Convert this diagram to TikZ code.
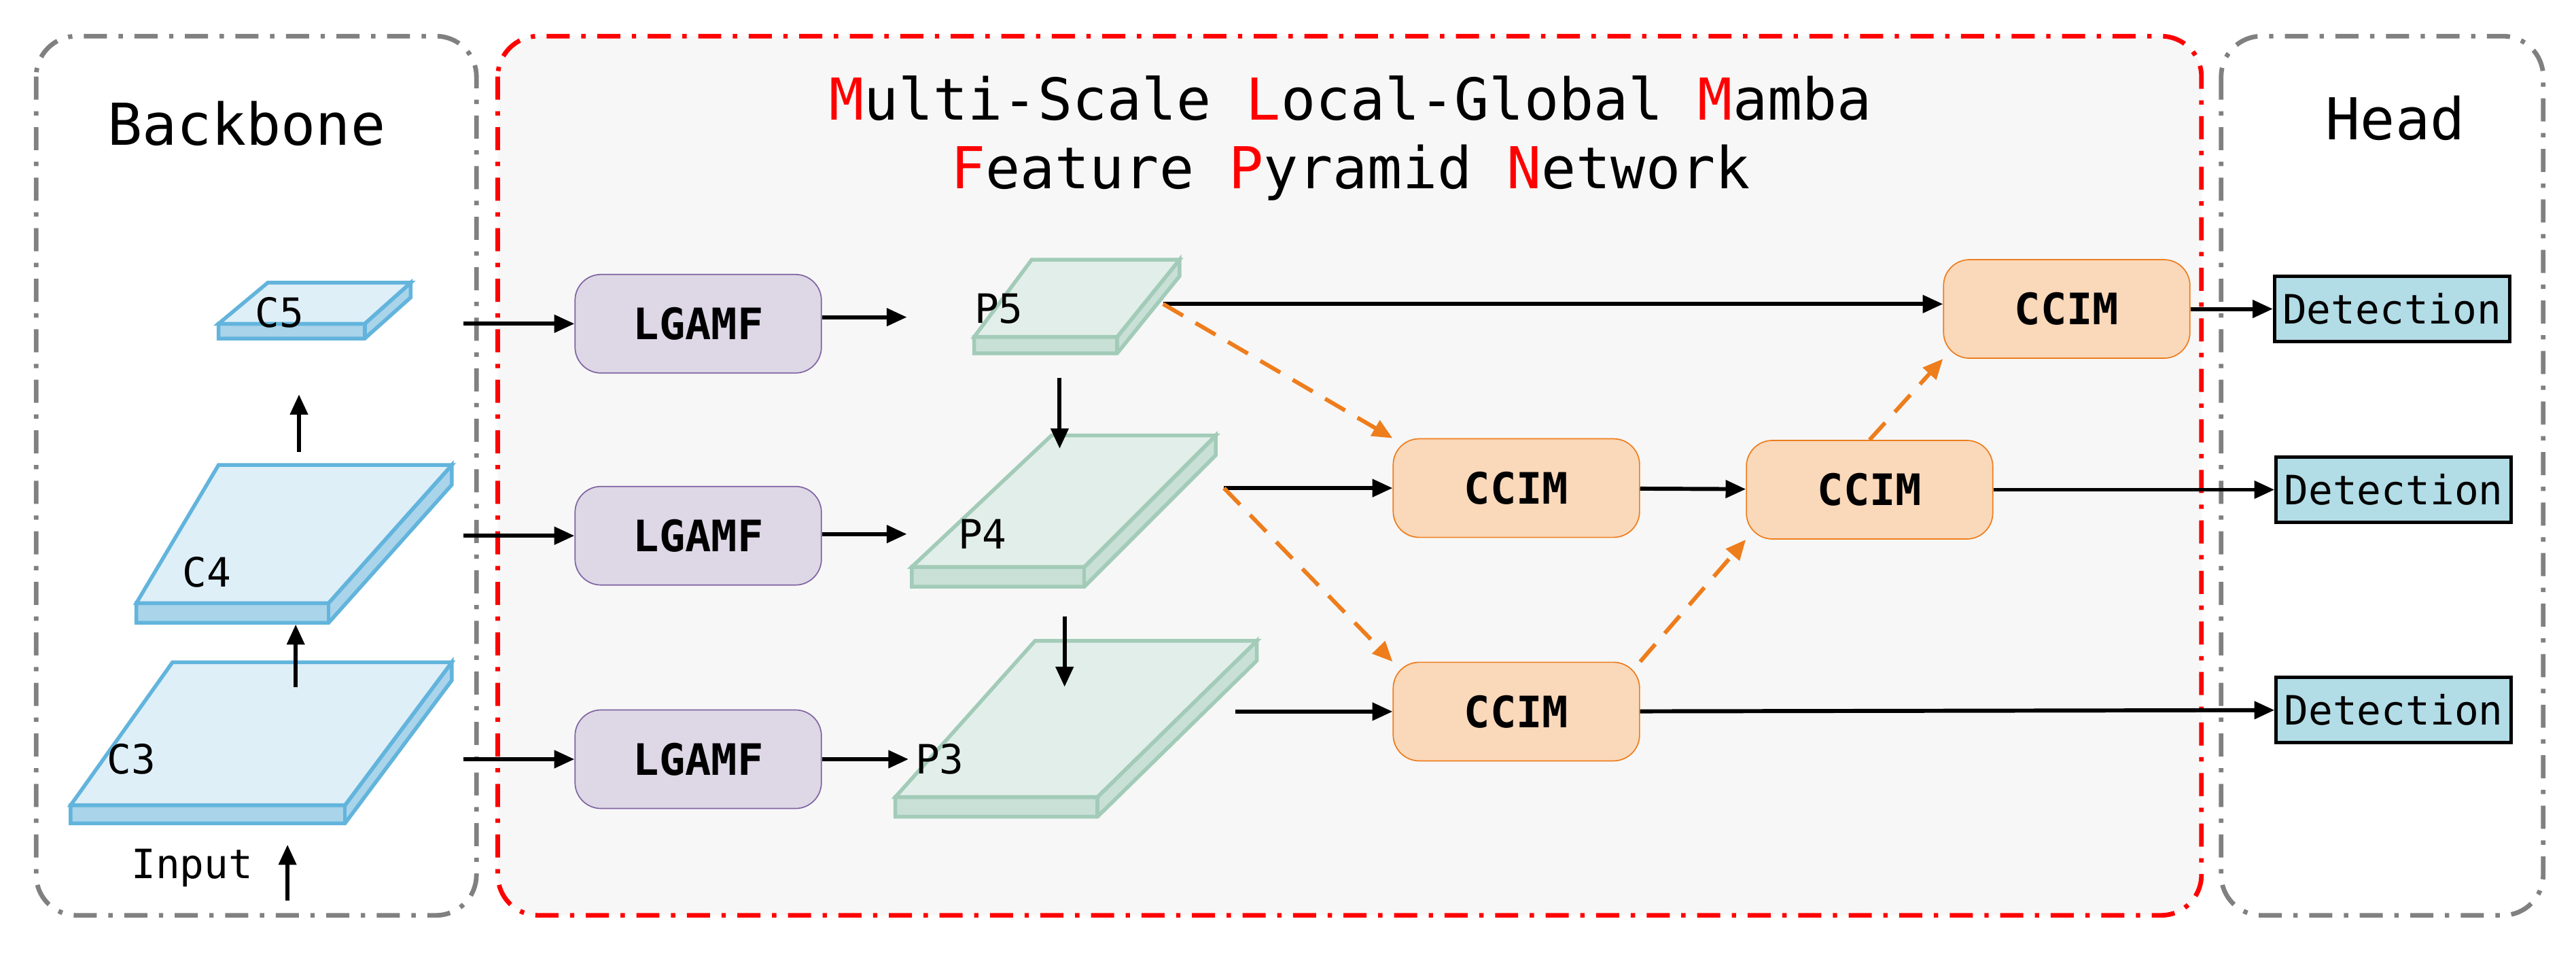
\documentclass[tikz,border=0pt]{standalone}
\usepackage{fontspec}
\setmainfont{DejaVu Sans Mono}
\usetikzlibrary{arrows.meta}
\definecolor{bbfill}{HTML}{DEEFF8}\definecolor{bbside}{HTML}{A9D4EA}\definecolor{bbline}{HTML}{62B4DC}
\definecolor{pfill}{HTML}{E2EEE9}\definecolor{pside}{HTML}{C8E0D6}\definecolor{pline}{HTML}{A2CBB8}
\definecolor{lgfill}{HTML}{DDD7E6}\definecolor{lgline}{HTML}{8064A2}
\definecolor{ccfill}{HTML}{FAD8BA}\definecolor{ccline}{HTML}{EE7D1C}
\definecolor{detfill}{HTML}{B2DCE6}\definecolor{midfill}{HTML}{F7F7F7}
\begin{document}
\begin{tikzpicture}[x=0.02cm,y=-0.02cm,
  frame/.style={line width=1.6pt,rounded corners=14pt,dash pattern=on 8pt off 4pt on 1.5pt off 4pt},
  arr/.style={line width=1.4pt,-{Triangle[length=7pt,width=6pt]}},
  oarr/.style={line width=1.4pt,ccline,dash pattern=on 8pt off 5pt,-{Triangle[length=7pt,width=6pt]}},
  lg/.style={draw=lgline,fill=lgfill,rounded corners=9pt,minimum width=3cm,minimum height=1.2cm,font=\bfseries\fontsize{15}{15}\selectfont},
  cc/.style={draw=ccline,fill=ccfill,rounded corners=9pt,minimum width=3cm,minimum height=1.2cm,font=\bfseries\fontsize{15}{15}\selectfont},
  det/.style={draw=black,line width=1.2pt,fill=detfill,minimum width=2.86cm,minimum height=0.8cm,inner sep=0pt,font=\fontsize{14}{14}\selectfont},
  lab/.style={font=\fontsize{14}{14}\selectfont},
  ttl/.style={font=\fontsize{20}{20}\selectfont}]
\useasboundingbox (0,0) rectangle (1568,582);
% frames
\draw[frame,gray] (22,22) rectangle (290,557);
\draw[frame,red,fill=midfill] (303,22) rectangle (1340,557);
\draw[frame,gray] (1352,22) rectangle (1548,557);
\node[ttl] (tb) at (150,75) {Backbone};
\node[ttl] (th) at (1458,72) {Head};
\node[ttl] (t1) at (822,60) {\textcolor{red}{M}ulti-Scale \textcolor{red}{L}ocal-Global \textcolor{red}{M}amba};
\node[ttl] (t2) at (822,105) {\textcolor{red}{F}eature \textcolor{red}{P}yramid \textcolor{red}{N}etwork};
% slab macro-like drawing
\newcommand{\myslab}[8]{% bl-x, y, tl-x, top-y, tr-x, br-x, thick, style prefix
  \fill[#8side,draw=#8line,line width=1.3pt] (#1,#2) -- (#6,#2) -- (#5,#4) -- (#5,#4+#7) -- (#6,#2+#7) -- (#1,#2+#7) -- cycle;
  \draw[#8line,line width=1.3pt] (#6,#2) -- (#6,#2+#7);
  \fill[#8fill,draw=#8line,line width=1.3pt] (#1,#2) -- (#3,#4) -- (#5,#4) -- (#6,#2) -- cycle;}
\myslab{133}{197}{163}{172}{250}{222}{9}{bb}
\myslab{83}{367}{133}{283}{275}{200}{12}{bb}
\myslab{43}{490}{105}{403}{275}{210}{11}{bb}
\myslab{593}{205}{628}{158}{718}{680}{10}{p}
\myslab{555}{345}{640}{265}{740}{660}{12}{p}
\myslab{545}{485}{630}{390}{765}{668}{12}{p}
\node[lab] (c5) at (170,190) {C5};
\node[lab] (c4) at (126,348) {C4};
\node[lab] (c3) at (80,462) {C3};
\node[lab] (in) at (117,528) {Input};
\node[lab] (p5) at (608,188) {P5};
\node[lab] (p4) at (598,325) {P4};
\node[lab] (p3) at (572,462) {P3};
\coordinate (ia) at (175,548); \coordinate (ib) at (175,514);
\coordinate (c34a) at (180,418); \coordinate (c34b) at (180,380);
\coordinate (c45a) at (182,275); \coordinate (c45b) at (182,240);
\draw[arr] (ia) -- (ib); \draw[arr] (c34a) -- (c34b); \draw[arr] (c45a) -- (c45b);
% LGAMF
\node[lg] (l5) at (425,197) {LGAMF};
\node[lg] (l4) at (425,326) {LGAMF};
\node[lg] (l3) at (425,462) {LGAMF};
\coordinate (s5) at (282,197); \coordinate (s4) at (282,326); \coordinate (s3) at (282,462);
\draw[arr] (s5) -- (l5); \draw[arr] (s4) -- (l4); \draw[arr] (s3) -- (l3);
\coordinate (e5) at (552,193); \coordinate (e4) at (552,325); \coordinate (e3) at (553,462);
\draw[arr] (l5.east |- e5) -- (e5); \draw[arr] (l4.east |- e4) -- (e4); \draw[arr] (l3.east |- e3) -- (e3);
\coordinate (d54a) at (645,230); \coordinate (d54b) at (645,273);
\coordinate (d43a) at (648,375); \coordinate (d43b) at (648,418);
\draw[arr] (d54a) -- (d54b); \draw[arr] (d43a) -- (d43b);
% CCIM
\node[cc] (ct) at (1258,188) {CCIM};
\node[cc] (cm1) at (923,297) {CCIM};
\node[cc] (cm2) at (1138,298) {CCIM};
\node[cc] (cl) at (923,433) {CCIM};
\coordinate (o5) at (708,185); \coordinate (o4) at (745,297); \coordinate (o3) at (752,433);
\draw[arr] (o5) -- (ct.west |- o5);
\draw[arr] (o4) -- (cm1);
\draw[arr] (o3) -- (cl);
\draw[arr] (cm1) -- (cm2);
\node[det] (d1) at (1456,188) {Detection};
\node[det] (d2) at (1457,298) {Detection};
\node[det] (d3) at (1457,432) {Detection};
\draw[arr] (ct) -- (d1);
\draw[arr] (cm2) -- (d2);
\draw[arr] (cl) -- (d3);
\draw[oarr] (o5) -- (cm1.north west);
\draw[oarr] (o4) -- (cl.north west);
\draw[oarr] (cl.north east) -- (cm2.south west);
\draw[oarr] (cm2.north) -- (ct.south west);
\end{tikzpicture}
\end{document}
